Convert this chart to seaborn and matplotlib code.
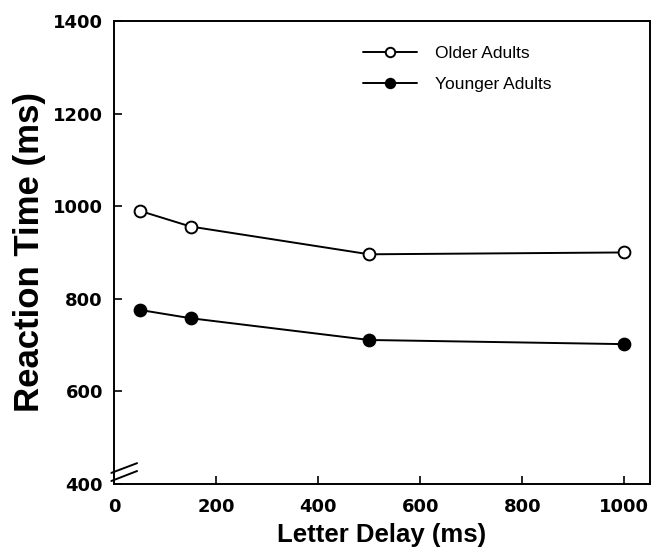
import matplotlib
matplotlib.use("Agg")
import matplotlib.pyplot as plt
import seaborn as sns
import pandas as pd

delays = [50, 150, 500, 1000]
older_rt = [990, 956, 896, 900]
younger_rt = [776, 758, 711, 702]
x_ticks = [0, 200, 400, 600, 800, 1000]
y_ticks = [400, 600, 800, 1000, 1200, 1400]

sns.set_style("ticks")
plt.rcParams['font.family'] = ['Liberation Sans', 'DejaVu Sans']
plt.rcParams.update({"text.color": "black", "axes.labelcolor": "black",
                     "xtick.color": "black", "ytick.color": "black",
                     "axes.edgecolor": "black"})

df_old = pd.DataFrame({"delay": delays, "rt": older_rt})
df_young = pd.DataFrame({"delay": delays, "rt": younger_rt})

fig = plt.figure(figsize=(6.63, 5.5), dpi=100)
ax = fig.add_axes([0.172, 0.12, 0.808, 0.842])

sns.lineplot(data=df_old, x="delay", y="rt", ax=ax, color="black", lw=1.4,
             marker="o", markersize=8.5, markerfacecolor="white",
             markeredgecolor="black", markeredgewidth=1.4, label="Older Adults")
sns.lineplot(data=df_young, x="delay", y="rt", ax=ax, color="black", lw=1.4,
             marker="o", markersize=8.5, markerfacecolor="black",
             markeredgecolor="black", markeredgewidth=1.4, label="Younger Adults")

ax.set_xlim(0, 1050)
ax.set_ylim(400, 1400)
ax.set_xticks(x_ticks)
ax.set_yticks(y_ticks)
tick_font = dict(fontweight="bold", fontsize=13, family="DejaVu Sans")
ax.set_xticklabels([str(t) for t in x_ticks], **tick_font)
ax.set_yticklabels([str(t) for t in y_ticks], **tick_font)
ax.tick_params(axis="x", direction="in", length=6, width=1.2, pad=10)
ax.tick_params(axis="y", direction="in", length=6, width=1.2, pad=8)
for s in ax.spines.values():
    s.set_linewidth(1.4)
    s.set_color("black")
    s.set_visible(True)

ax.set_xlabel("Letter Delay (ms)", fontsize=18.5, fontweight="bold", labelpad=5)
ax.set_ylabel("Reaction Time (ms)", fontsize=25, fontweight="bold", labelpad=5)

leg = ax.legend(loc="upper left", bbox_to_anchor=(0.4525, 0.962), borderaxespad=0,
                frameon=False, fontsize=12.5, handlelength=3.1, handletextpad=1.0,
                labelspacing=0.95, markerscale=0.8)

# axis break marks
for y0, y1 in ((0.0065, 0.028), (0.024, 0.045)):
    ax.plot([-0.005, 0.043], [y0, y1], transform=ax.transAxes,
            color="black", lw=1.4, clip_on=False)

fig.savefig("out.png", dpi=100)
